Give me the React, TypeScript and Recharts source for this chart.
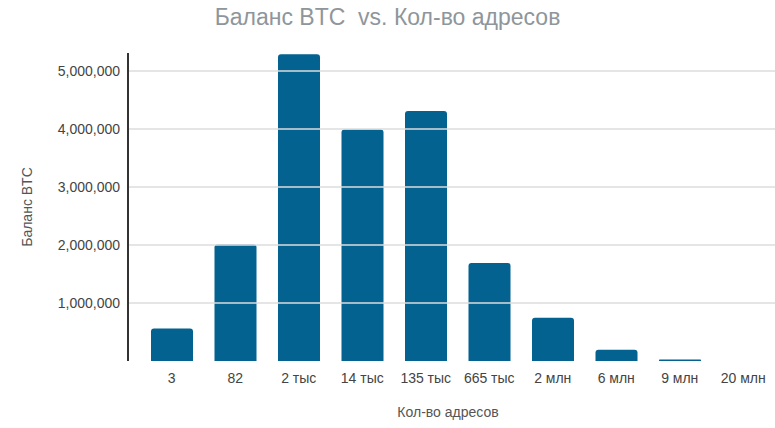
import React from "react";
import { BarChart, Bar, XAxis, YAxis, ReferenceLine } from "recharts";

const addressCounts = ["3", "82", "2 тыс", "14 тыс", "135 тыс", "665 тыс", "2 млн", "6 млн", "9 млн", "20 млн"];
const btcBalance = [560000, 2010000, 5290000, 3990000, 4310000, 1690000, 745000, 195000, 25000, 0];
const yTicks = [1000000, 2000000, 3000000, 4000000, 5000000];

const data = addressCounts.map((name, i) => ({ name, balance: btcBalance[i] }));

const FONT = "Arial, 'Liberation Sans', sans-serif";

export default function App() {
  return (
    <div
      style={{
        position: "absolute",
        left: 0,
        top: 0,
        width: 775,
        height: 428,
        background: "#fff",
        fontFamily: FONT,
      }}
    >
      <div
        style={{
          position: "absolute",
          top: 4,
          left: 0,
          width: 775,
          textAlign: "center",
          fontSize: 23,
          color: "#8e969b",
        }}
      >
        Баланс BTC&nbsp;&nbsp;vs. Кол-во адресов
      </div>
      <div
        style={{
          position: "absolute",
          left: 27,
          top: 207,
          transform: "translate(-50%, -50%) rotate(-90deg)",
          fontSize: 14,
          color: "#555",
          whiteSpace: "nowrap",
        }}
      >
        Баланс BTC
      </div>
      <div
        style={{
          position: "absolute",
          left: 448,
          top: 412,
          transform: "translate(-50%, -50%)",
          fontSize: 14,
          color: "#555",
          whiteSpace: "nowrap",
        }}
      >
        Кол-во адресов
      </div>
      <BarChart
        width={775}
        height={428}
        data={data}
        margin={{ top: 53, right: 0, bottom: 0, left: 0 }}
        style={{ position: "absolute", left: 0, top: 0 }}
      >
        <XAxis
          dataKey="name"
          height={67}
          axisLine={false}
          tickLine={false}
          padding={{ left: 12, right: 0 }}
          tickMargin={6}
          interval={0}
          tick={{ fontSize: 14, fill: "#444", fontFamily: FONT }}
        />
        <YAxis
          width={128}
          domain={[0, 5310000]}
          ticks={yTicks}
          allowDataOverflow
          axisLine={{ stroke: "#333", strokeWidth: 2 }}
          tickLine={false}
          tick={{ fontSize: 14, fill: "#444", fontFamily: FONT }}
          tickFormatter={(v: number) => v.toLocaleString("en-US")}
        />
        {yTicks.map((t) => (
          <ReferenceLine key={t} y={t} stroke="#dcdcdc" strokeWidth={1.5} />
        ))}
        <Bar
          dataKey="balance"
          fill="#03628f"
          barSize={42}
          radius={[3, 3, 0, 0]}
          isAnimationActive={false}
        />
      </BarChart>
    </div>
  );
}
